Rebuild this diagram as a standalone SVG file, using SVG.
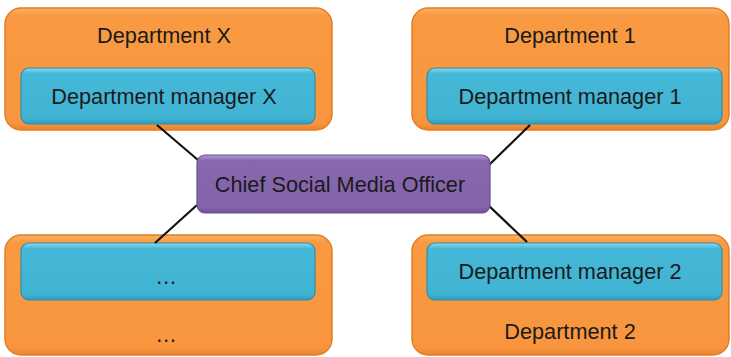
<svg xmlns="http://www.w3.org/2000/svg" width="731" height="357" viewBox="0 0 731 357">
<style>
.dept{fill:url(#gO);stroke:#E07F27;stroke-width:1.5}
.mgr{fill:url(#gB);stroke:#2F8DAA;stroke-width:1.2}
.ceo{fill:url(#gP);stroke:#6B4F90;stroke-width:1.2}
.t{font-family:"Liberation Sans",Arial,sans-serif;font-size:21.7px;fill:#1a1a1a;text-anchor:middle}
.conn line{stroke:#111;stroke-width:2.2}
</style>
<defs>
<linearGradient id="gO" x1="0" y1="0" x2="0" y2="1">
<stop offset="0" stop-color="#FBB262"/><stop offset="0.06" stop-color="#F99A42"/><stop offset="0.94" stop-color="#F8953E"/><stop offset="1" stop-color="#E9852E"/>
</linearGradient>
<linearGradient id="gB" x1="0" y1="0" x2="0" y2="1">
<stop offset="0" stop-color="#8ED8EC"/><stop offset="0.1" stop-color="#44B8D6"/><stop offset="0.9" stop-color="#41B4D3"/><stop offset="1" stop-color="#2F9CBD"/>
</linearGradient>
<linearGradient id="gP" x1="0" y1="0" x2="0" y2="1">
<stop offset="0" stop-color="#B09AD0"/><stop offset="0.1" stop-color="#8767AE"/><stop offset="0.9" stop-color="#8364AB"/><stop offset="1" stop-color="#6E5196"/>
</linearGradient>
</defs>
<g id="deptX">
<rect class="dept" x="5" y="8" width="327" height="122" rx="16"/>
<text class="t" x="164" y="43">Department X</text>
<rect class="mgr" x="21" y="68" width="294" height="56" rx="8"/>
<text class="t" x="164" y="104">Department manager X</text>
</g>
<g id="dept1">
<rect class="dept" x="412" y="8" width="317" height="122" rx="16"/>
<text class="t" x="570" y="43">Department 1</text>
<rect class="mgr" x="427" y="68" width="295" height="56" rx="8"/>
<text class="t" x="570" y="104">Department manager 1</text>
</g>
<g id="deptDots">
<rect class="dept" x="5" y="235" width="327" height="120" rx="16"/>
<rect class="mgr" x="21" y="243" width="294" height="57" rx="8"/>
<text class="t" x="166" y="284">…</text>
<text class="t" x="166" y="342">…</text>
</g>
<g id="dept2">
<rect class="dept" x="412" y="235" width="317" height="120" rx="16"/>
<rect class="mgr" x="427" y="243" width="295" height="57" rx="8"/>
<text class="t" x="570" y="279">Department manager 2</text>
<text class="t" x="570" y="339">Department 2</text>
</g>
<g class="conn" id="connectors">
<line x1="157" y1="125" x2="198" y2="160"/>
<line x1="530" y1="125" x2="488" y2="166"/>
<line x1="197" y1="205" x2="155" y2="243"/>
<line x1="488" y1="205" x2="527" y2="242"/>
</g>
<g id="ceo">
<rect class="ceo" x="197" y="155" width="293" height="58" rx="8"/>
<text class="t" x="340" y="192">Chief Social Media Officer</text>
</g>
</svg>
